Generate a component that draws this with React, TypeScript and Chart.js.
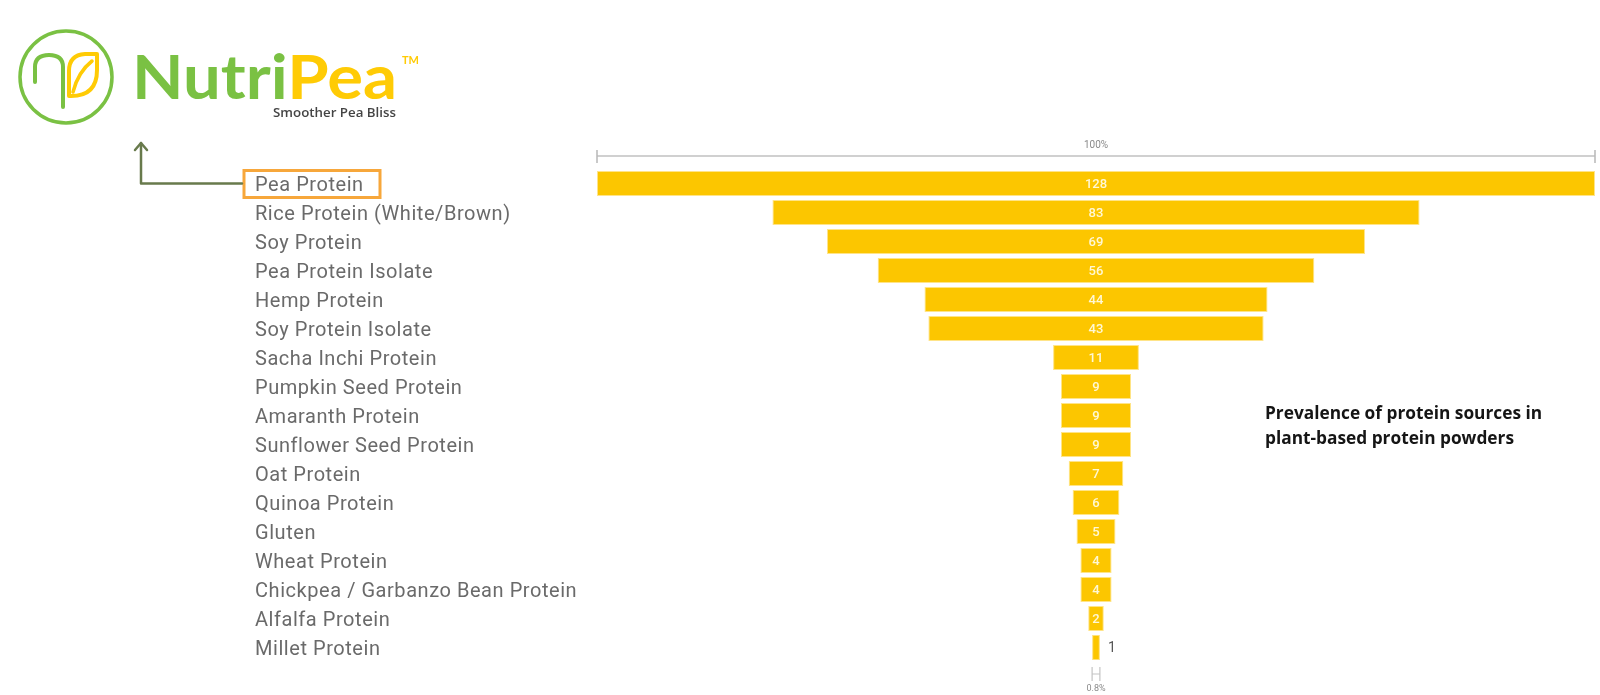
import React, { useEffect, useRef } from "react";
import { Chart, registerables } from "chart.js";

Chart.register(...registerables);

const CATEGORIES = [
  "Pea Protein",
  "Rice Protein (White/Brown)",
  "Soy Protein",
  "Pea Protein Isolate",
  "Hemp Protein",
  "Soy Protein Isolate",
  "Sacha Inchi Protein",
  "Pumpkin Seed Protein",
  "Amaranth Protein",
  "Sunflower Seed Protein",
  "Oat Protein",
  "Quinoa Protein",
  "Gluten",
  "Wheat Protein",
  "Chickpea / Garbanzo Bean Protein",
  "Alfalfa Protein",
  "Millet Protein",
];

const VALUES = [128, 83, 69, 56, 44, 43, 11, 9, 9, 9, 7, 6, 5, 4, 4, 2, 1];

const TITLE_LINES = ["Prevalence of protein sources in", "plant-based protein powders"];

const MAX = Math.max(...VALUES);
const LABEL_FONT = "Roboto";

const spacingPlugin = {
  id: "labelSpacing",
  beforeDraw(chart: any) {
    (chart.ctx as any).letterSpacing = "0.55px";
  },
  beforeDatasetsDraw(chart: any) {
    (chart.ctx as any).letterSpacing = "0px";
  },
};

const funnelPlugin = {
  id: "funnelDecor",
  afterDatasetsDraw(chart: any) {
    const ctx = chart.ctx as CanvasRenderingContext2D;
    (ctx as any).letterSpacing = "0px";
    const xs = chart.scales.x;
    const ys = chart.scales.y;
    const meta = chart.getDatasetMeta(0);
    ctx.save();

    // value labels
    meta.data.forEach((bar: any, i: number) => {
      const left = Math.min(bar.x, bar.base);
      const right = Math.max(bar.x, bar.base);
      const w = right - left;
      ctx.font = `500 13px ${LABEL_FONT}`;
      ctx.textBaseline = "middle";
      if (w > 12) {
        ctx.fillStyle = "#fff8d6";
        ctx.textAlign = "center";
        ctx.fillText(String(VALUES[i]), (left + right) / 2, bar.y + 1);
      } else {
        ctx.fillStyle = "#555555";
        ctx.textAlign = "left";
        ctx.font = `14px ${LABEL_FONT}`;
        ctx.fillText(String(VALUES[i]), right + 8, bar.y + 1);
      }
    });

    // top axis (100%)
    const x0 = xs.getPixelForValue(0);
    const x1 = xs.getPixelForValue(MAX);
    const topY = 156;
    ctx.strokeStyle = "#d0d0d0";
    ctx.lineWidth = 2;
    ctx.beginPath();
    ctx.moveTo(x0, topY);
    ctx.lineTo(x1, topY);
    ctx.stroke();
    ctx.lineWidth = 1.5;
    ctx.strokeStyle = "#b8b8b8";
    ctx.beginPath();
    ctx.moveTo(x0, 150);
    ctx.lineTo(x0, 163);
    ctx.moveTo(x1, 150);
    ctx.lineTo(x1, 163);
    ctx.stroke();
    ctx.fillStyle = "#8a8a8a";
    ctx.font = `10px ${LABEL_FONT}`;
    ctx.textAlign = "center";
    ctx.textBaseline = "middle";
    ctx.fillText(`${Math.round((VALUES[0] / MAX) * 100)}%`, (x0 + x1) / 2, 145);

    // bottom marker
    const last = VALUES[VALUES.length - 1];
    const bl = xs.getPixelForValue((MAX - last) / 2);
    const br = xs.getPixelForValue((MAX + last) / 2);
    ctx.strokeStyle = "#c4c4c4";
    ctx.lineWidth = 1.2;
    ctx.beginPath();
    ctx.moveTo(bl, 667);
    ctx.lineTo(bl, 681);
    ctx.moveTo(br, 667);
    ctx.lineTo(br, 681);
    ctx.moveTo(bl, 674);
    ctx.lineTo(br, 674);
    ctx.stroke();
    ctx.fillStyle = "#8a8a8a";
    ctx.font = `9px ${LABEL_FONT}`;
    ctx.fillText(`${((last / MAX) * 100).toFixed(1)}%`, (bl + br) / 2, 689);

    // highlight box around first label + arrow
    const y0 = ys.getPixelForTick(0);
    ctx.strokeStyle = "#f7a73b";
    ctx.lineWidth = 3;
    ctx.strokeRect(244, y0 - 13, 136, 27);
    ctx.strokeStyle = "#687a4c";
    ctx.lineWidth = 2.5;
    ctx.lineJoin = "round";
    ctx.lineCap = "round";
    ctx.beginPath();
    ctx.moveTo(242, y0);
    ctx.lineTo(141, y0);
    ctx.lineTo(141, 143);
    ctx.stroke();
    ctx.beginPath();
    ctx.moveTo(135, 150);
    ctx.lineTo(141, 143);
    ctx.lineTo(147, 150);
    ctx.stroke();

    ctx.restore();
  },
};

function Logo() {
  const green = "#7ac143";
  const yellow = "#ffcb05";
  return (
    <svg
      width={450}
      height={140}
      style={{ position: "absolute", left: 0, top: 0 }}
    >
      <circle cx={66} cy={77} r={46} fill="none" stroke={green} strokeWidth={3.5} />
      <path
        d="M 35 82 L 35 67 Q 35 55 49 55 Q 63 55 63 67 L 63 107"
        fill="none"
        stroke={green}
        strokeWidth={4}
        strokeLinecap="round"
      />
      <path
        d="M 69 96 L 69 71 Q 69 55 85 54 L 97 54 L 97 70 Q 97 96 71 96 Z"
        fill="none"
        stroke={yellow}
        strokeWidth={4}
        strokeLinejoin="round"
      />
      <path d="M 73 92 Q 78 72 92 61" fill="none" stroke={yellow} strokeWidth={3.5} strokeLinecap="round" />
      <text
        x={132}
        y={99}
        fontFamily="Lato"
        fontWeight={700}
        fontSize={62}
        textLength={265}
        lengthAdjust="spacingAndGlyphs"
      >
        <tspan fill={green}>Nutri</tspan>
        <tspan fill={yellow}>Pea</tspan>
      </text>
      <text x={402} y={64} fontFamily="Lato" fontWeight={700} fontSize={11} fill={yellow}>
        TM
      </text>
      <text
        x={273}
        y={117}
        fontFamily="Open Sans"
        fontWeight={600}
        fontSize={12}
        fill="#444444"
        textLength={123}
        lengthAdjust="spacingAndGlyphs"
      >
        Smoother Pea Bliss
      </text>
    </svg>
  );
}

export default function App() {
  const canvasRef = useRef<HTMLCanvasElement | null>(null);

  useEffect(() => {
    if (!canvasRef.current) return;
    const chart = new Chart(canvasRef.current, {
      type: "bar",
      data: {
        labels: CATEGORIES,
        datasets: [
          {
            data: VALUES.map((v) => [(MAX - v) / 2, (MAX + v) / 2]) as any,
            backgroundColor: "#fcc600",
            borderColor: "#ffe488",
            borderWidth: 1,
            borderSkipped: false,
            barPercentage: 0.87,
            categoryPercentage: 1,
          },
        ],
      },
      options: {
        indexAxis: "y",
        responsive: false,
        animation: false,
        layout: { padding: { left: 255, top: 169, right: 5, bottom: 33 } },
        plugins: { legend: { display: false }, tooltip: { enabled: false } },
        scales: {
          x: { display: false, min: 0, max: MAX },
          y: {
            grid: { display: false },
            border: { display: false },
            ticks: {
              crossAlign: "far",
              color: "#6a6a6a",
              font: { family: LABEL_FONT, size: 20 },
              padding: 0,
              labelOffset: 2,
            },
            afterFit: (scale: any) => {
              scale.width = 342;
            },
          },
        },
      },
      plugins: [spacingPlugin, funnelPlugin],
    });
    return () => chart.destroy();
  }, []);

  return (
    <div
      style={{
        position: "fixed",
        left: 0,
        top: 0,
        width: 1600,
        height: 695,
        background: "#ffffff",
        overflow: "hidden",
      }}
    >
      <canvas
        ref={canvasRef}
        width={1600}
        height={695}
        style={{ position: "absolute", left: 0, top: 0, width: 1600, height: 695 }}
      />
      <Logo />
      <div
        style={{
          position: "absolute",
          left: 1265,
          top: 400,
          fontFamily: "'Open Sans', sans-serif",
          fontWeight: 700,
          fontSize: 17.3,
          lineHeight: "25px",
          color: "#151515",
          whiteSpace: "nowrap",
        }}
      >
        {TITLE_LINES.map((l) => (
          <div key={l}>{l}</div>
        ))}
      </div>
    </div>
  );
}
